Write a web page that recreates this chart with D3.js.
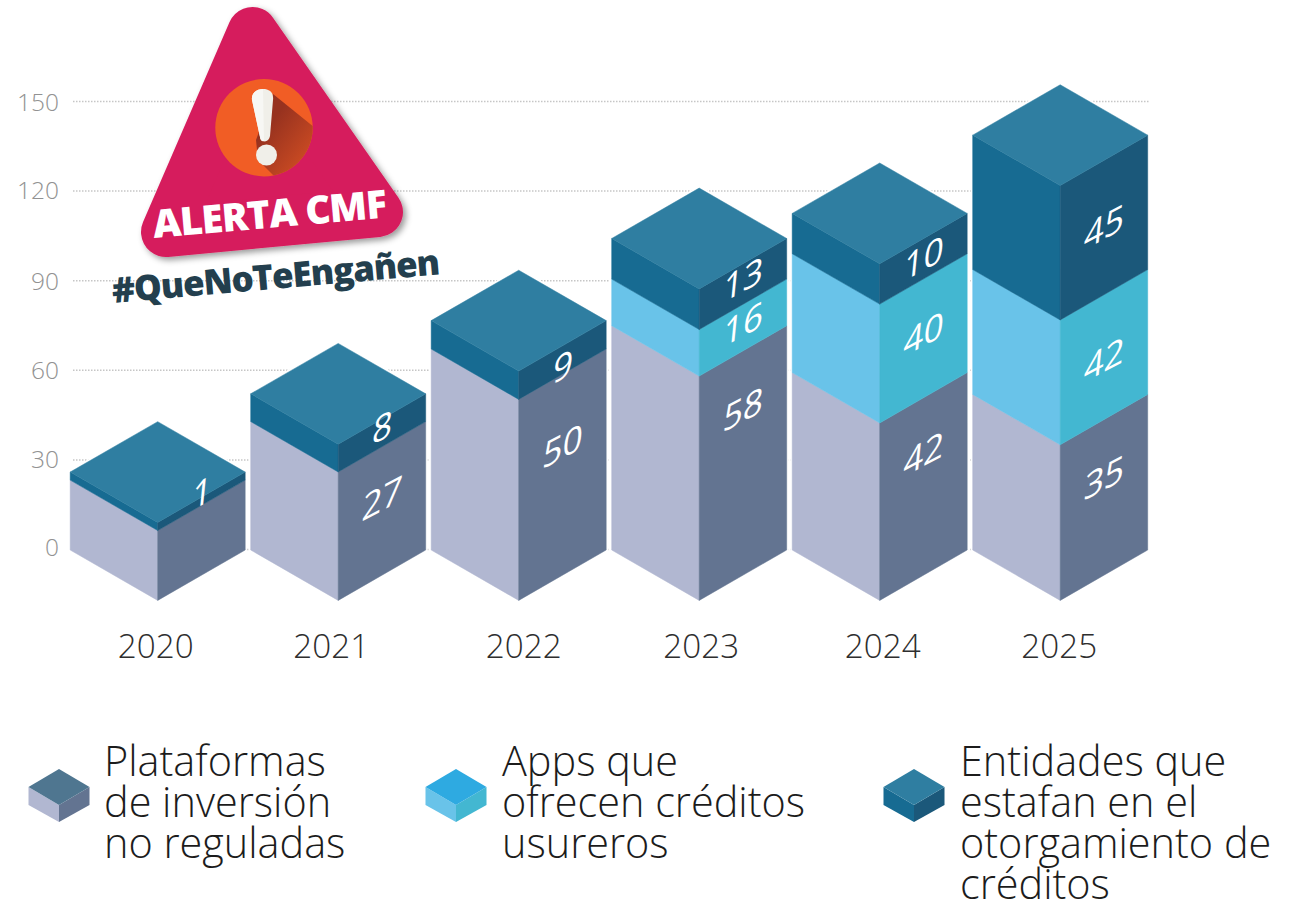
<!DOCTYPE html>
<html>
<head>
<meta charset="utf-8">
<script src="https://cdn.jsdelivr.net/npm/d3@7/dist/d3.min.js"></script>
<style>
html,body{margin:0;padding:0;background:#fff;}
svg{display:block;}
text{font-family:"Open Sans",sans-serif;}
</style>
</head>
<body>
<div id="chart"></div>
<script>
// ---------- data ----------
const years = ["2020","2021","2022","2023","2024","2025"];
const axisTicks = [0,30,60,90,120,150];
// Drawn heights (the picture does not draw them to its printed numbers)
const plataformasHeight = [23.4,43.0,67.3,75.1,59.4,52.1];
const appsHeight        = [0,0,0,15.6,39.8,41.8];
const entidadesHeight   = [2.7,9.3,9.5,13.6,13.5,45.0];
// Printed numbers
const plataformasLabel = [null,27,50,58,42,35];
const appsLabel        = [null,null,null,16,40,42];
const entidadesLabel   = [1,8,9,13,10,45];
const seriesKeys = ["plataformas","apps","entidades"];
const legendLines = [
  ["Plataformas","de inversión","no reguladas"],
  ["Apps que","ofrecen créditos","usureros"],
  ["Entidades que","estafan en el","otorgamiento de","créditos"]
];

// ---------- layout & style ----------
const W=1294,H=905;
const dx=87.5, dy=50.4;
const palette={
  plataformas:{left:"#b1b7d1",right:"#637491",top:"#4f7690"},
  apps:{left:"#69c3e9",right:"#43b7d1",top:"#2eaae1"},
  entidades:{left:"#176b92",right:"#1b587a",top:"#2f7ea1"}
};
const labelNudge={
  plataformas:[0,-13,-29,-54,-33,-20],
  apps:[0,0,0,-4,-5,2],
  entidades:[-9,-6,6,-5,-1,-1]
};
const yearNudge=[-2,-7,5,2,3,-1];
const tickNudge=[-3,-1,0,0,-1,0];
const legendX=[104,502,960], legendIconX=[59,456,914];

const svg=d3.select("#chart").append("svg").attr("width",W).attr("height",H);
const x=d3.scalePoint().domain(years).range([157.7,1060.2]);
const y=d3.scaleLinear().domain([0,150]).range([549,101]);
const yB=v=>y(v)+1;

// gridlines + axis
const axis=d3.axisLeft(y).tickValues(axisTicks).tickSize(-(1150-73)).tickPadding(14).tickFormat(d3.format("d"));
const ga=svg.append("g").attr("transform","translate(73,0)").call(axis);
ga.select(".domain").remove();
ga.selectAll(".tick line").attr("stroke","#c6c6c6").attr("stroke-width",1.5).attr("stroke-dasharray","1.5 1.5");
ga.selectAll(".tick text").attr("fill","#929292").attr("font-size",24.5).attr("font-weight",300)
  .attr("font-family",'"Open Sans",sans-serif').attr("dy","0.37em").attr("y",(d,i)=>tickNudge[i]);

// stack
const rows=years.map((yr,i)=>({year:yr,plataformas:plataformasHeight[i],apps:appsHeight[i],entidades:entidadesHeight[i]}));
const stacked=d3.stack().keys(seriesKeys)(rows);
const labels={plataformas:plataformasLabel,apps:appsLabel,entidades:entidadesLabel};
const line=d3.line();

const bars=svg.append("g");
// white halo behind each bar
bars.selectAll("path.halo").data(rows).join("path").attr("class","halo")
  .attr("fill","#fff").attr("stroke","#fff").attr("stroke-width",4).attr("stroke-linejoin","miter")
  .attr("d",(d)=>{
    const c=x(d.year), t=d.plataformas+d.apps+d.entidades;
    return line([[c-dx,yB(0)],[c,yB(0)+dy],[c+dx,yB(0)],[c+dx,yB(t)],[c,yB(t)-dy],[c-dx,yB(t)]])+"Z";
  });
stacked.forEach(s=>{
  const g=bars.append("g");
  const c=palette[s.key];
  const data=s.map((d,i)=>({y0:d[0],y1:d[1],year:years[i],i})).filter(d=>d.y1>d.y0);
  g.selectAll("path.l").data(data).join("path").attr("class","l").attr("fill",c.left).attr("stroke",c.left).attr("stroke-width",0.5)
    .attr("d",d=>{const m=x(d.year);return line([[m-dx,yB(d.y0)],[m,yB(d.y0)+dy],[m,yB(d.y1)+dy],[m-dx,yB(d.y1)]])+"Z";});
  g.selectAll("path.r").data(data).join("path").attr("class","r").attr("fill",c.right).attr("stroke",c.right).attr("stroke-width",0.5)
    .attr("d",d=>{const m=x(d.year);return line([[m+dx,yB(d.y0)],[m,yB(d.y0)+dy],[m,yB(d.y1)+dy],[m+dx,yB(d.y1)]])+"Z";});
});
// top faces
const topSeries=stacked[stacked.length-1];
bars.selectAll("path.t").data(topSeries.map((d,i)=>({v:d[1],year:years[i]}))).join("path").attr("class","t")
  .attr("fill",palette.entidades.top).attr("stroke",palette.entidades.top).attr("stroke-width",0.5)
  .attr("d",d=>{const m=x(d.year),t=yB(d.v);return line([[m-dx,t],[m,t-dy],[m+dx,t],[m,t+dy]])+"Z";});
// numbers on right face
stacked.forEach(s=>{
  const data=s.map((d,i)=>({y0:d[0],y1:d[1],year:years[i],label:labels[s.key][i],n:labelNudge[s.key][i]})).filter(d=>d.label!==null);
  svg.append("g").selectAll("text").data(data).join("text")
    .attr("transform",d=>{
      const cx=x(d.year)+dx/2+0.5, cy=(yB(d.y0)+yB(d.y1))/2+dy/2+d.n;
      return `translate(${cx},${cy}) skewY(-28) skewX(-6)`;
    })
    .attr("text-anchor","middle").attr("dy","0.36em")
    .attr("fill","#fff").attr("font-size",35).attr("font-weight",400)
    .text(d=>d.label);
});

// years
svg.append("g").selectAll("text").data(years).join("text")
  .attr("x",(d,i)=>x(d)+yearNudge[i]).attr("y",658).attr("text-anchor","middle")
  .attr("fill","#2e2e2e").attr("font-size",33.2).attr("font-weight",300).text(d=>d);

// badge
const defs=svg.append("defs");
const f=defs.append("filter").attr("id","ds").attr("x","-20%").attr("y","-20%").attr("width","140%").attr("height","140%");
f.append("feDropShadow").attr("dx",3).attr("dy",3).attr("stdDeviation",3).attr("flood-color","#000").attr("flood-opacity",0.4);
const grad=defs.append("linearGradient").attr("id","sh").attr("x1","0").attr("y1","0").attr("x2","1").attr("y2","1");
grad.append("stop").attr("offset","0.25").attr("stop-color","#97321f");
grad.append("stop").attr("offset","1").attr("stop-color","#f15d25");
defs.append("clipPath").attr("id","cc").append("circle").attr("cx",264).attr("cy",127.7).attr("r",48.7);
const badge=svg.append("g");
badge.append("path").attr("d","M252.5,32L378,212L166,232Z").attr("fill","#d61f5d").attr("stroke","#d61f5d")
  .attr("stroke-width",50).attr("stroke-linejoin","round").attr("filter","url(#ds)");
badge.append("circle").attr("cx",264).attr("cy",127.7).attr("r",48.7).attr("fill","#f15d25");
badge.append("path").attr("clip-path","url(#cc)").attr("fill","url(#sh)")
  .attr("d","M273,94L330,140L330,190L278,180L258,160L256,140Z");
badge.append("path").attr("fill","#f0efe9")
  .attr("d","M252,100C251,92 258,89 263,89C269,89 274,92 273,100L270,136C269,143 261,143 260,137Z");
badge.append("path").attr("fill","#f7f7f4")
  .attr("d","M252,100C251,92 258,89 263,89L264,141C262,142 260,140 260,137Z");
badge.append("circle").attr("cx",266.5).attr("cy",155).attr("r",10.5).attr("fill","#f0efe9");
badge.append("text").attr("transform","translate(154,238) rotate(-5)")
  .attr("fill","#fff").attr("font-size",39).attr("font-weight",800).attr("textLength",235).attr("lengthAdjust","spacing").text("ALERTA CMF");
badge.append("text").attr("transform","translate(113,303) rotate(-5)")
  .attr("fill","#233f4e").attr("font-size",35).attr("font-weight",800).attr("textLength",329).attr("lengthAdjust","spacing").text("#QueNoTeEngañen");

// legend
const lg=svg.append("g");
seriesKeys.forEach((k,i)=>{
  const c=palette[k], cx=legendIconX[i], hw=30.5, hh=18, th=17, ty=787;
  const g=lg.append("g");
  g.append("path").attr("fill",c.left).attr("d",line([[cx-hw,ty],[cx,ty+hh],[cx,ty+hh+th],[cx-hw,ty+th+1]])+"Z");
  g.append("path").attr("fill",c.right).attr("d",line([[cx+hw,ty],[cx,ty+hh],[cx,ty+hh+th],[cx+hw,ty+th+1]])+"Z");
  g.append("path").attr("fill",c.top).attr("d",line([[cx-hw,ty],[cx,ty-hh],[cx+hw,ty],[cx,ty+hh]])+"Z");
  g.selectAll("text").data(legendLines[i]).join("text")
    .attr("x",legendX[i]).attr("y",(d,j)=>776+j*41)
    .attr("fill","#1c1c1c").attr("font-size",41.4).attr("font-weight",300).text(d=>d);
});
</script>
</body>
</html>
